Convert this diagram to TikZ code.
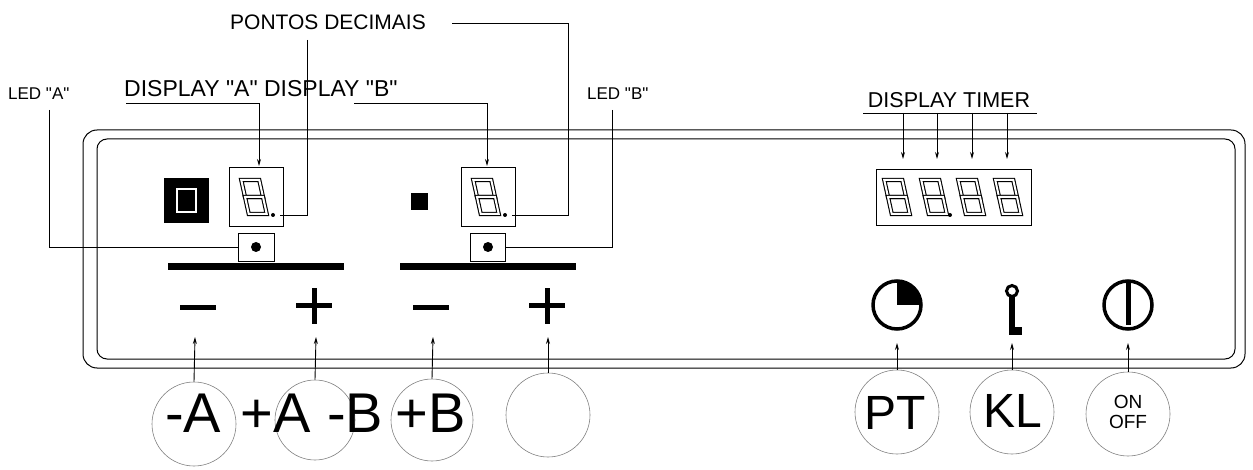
\documentclass[tikz,border=0pt]{standalone}
\usepackage{fontspec}
\setmainfont{Liberation Sans}[Ligatures=TeXOff]
\usetikzlibrary{arrows.meta,shapes.geometric}
\newcommand\qq{"}
\newcommand\mysegeight[2]{\begin{scope}[shift={(#1,#2)},xslant=-0.22]
  \draw[line width=1.1pt,double=white,double distance=2pt] (-9,-17) rectangle (9,0);
  \draw[line width=1.1pt,double=white,double distance=2pt] (-9,0) rectangle (9,17);
\end{scope}}
\begin{document}
\begin{tikzpicture}[x=1pt,y=-1pt,
  lead/.style={line width=0.9pt},
  arr/.style={line width=0.9pt,-{Stealth[length=7pt,width=4pt]}},
  btn/.style={draw=gray,line width=0.6pt,circle,minimum size=84pt,inner sep=0pt},
  lbl/.style={inner sep=0pt},
  big/.style={font=\fontsize{56}{56}\selectfont,inner sep=0pt},
  box/.style={draw,line width=0.9pt}]
\useasboundingbox (0,0) rectangle (1253,470);
% panel
\draw[line width=1pt,rounded corners=14pt] (83,130) rectangle (1245,368);
\draw[line width=1pt,rounded corners=10pt] (97,139) rectangle (1235,359);
% LED A symbol
\fill (164,178) rectangle (209,223);
\draw[white,line width=2.5pt] (177,189) rectangle (196,212);
\node[box,minimum width=54pt,minimum height=59pt] (dA) at (256,197) {};
\mysegeight{254}{197}
\fill (273,215) circle (2pt);
\coordinate (dpA) at (280,215);
\node[box,minimum width=36pt,minimum height=28pt] (lA) at (256,247) {};
\fill (256,247) circle (5pt);
\fill (168,263) rectangle (344,270);
% B
\fill (411,193) rectangle (428,210);
\node[box,minimum width=54pt,minimum height=59pt] (dB) at (488,197) {};
\mysegeight{486}{197}
\fill (505,215) circle (2pt);
\coordinate (dpB) at (512,215);
\node[box,minimum width=35pt,minimum height=28pt] (lB) at (488,247) {};
\fill (488,247) circle (5pt);
\fill (400,263) rectangle (576,270);
% minus / plus
\foreach \x in {198,431} \fill (\x-18,305) rectangle (\x+18,310);
\foreach \x in {314,547} {\fill (\x-18,303) rectangle (\x+18,308); \fill (\x-2.5,288) rectangle (\x+2.5,324);}
% labels top
\node[lbl,anchor=base west,font=\fontsize{17}{17}\selectfont] (tLA) at (8,100) {LED \qq A\qq};
\node[lbl,anchor=base west,font=\fontsize{23}{23}\selectfont] (tD) at (124,97) {DISPLAY \qq A\qq\ DISPLAY \qq B\qq};
\node[lbl,anchor=base,font=\fontsize{21}{21}\selectfont] (tP) at (328,30) {PONTOS DECIMAIS};
\node[lbl,anchor=base west,font=\fontsize{17}{17}\selectfont] (tLB) at (587,100) {LED \qq B\qq};
\node[lbl,anchor=base,font=\fontsize{21.5}{21.5}\selectfont] (tT) at (949,108) {DISPLAY TIMER};
% leaders
\draw[lead] (49,110) -- (49,247) -- (lA.west);
\draw[lead] (612,110) -- (612,247) -- (lB.east);
\draw[arr] (126,103) -- (259,103) -- (259,166);
\draw[arr] (354,103) -- (487,103) -- (487,166);
\draw[lead] (307,40) -- (307,215) -- (dpA);
\draw[lead] (452,23) -- (568,23) -- (568,215) -- (dpB);
% timer
\draw[lead] (863,113) -- (1037,113);
\node[box,minimum width=155pt,minimum height=56pt] (tm) at (954,197) {};
\foreach \x in {897,934,971,1008} {\mysegeight{\x}{197}}
\fill (950,215) circle (2pt);
\foreach \x in {903,937,972,1007} \draw[arr] (\x,113) -- (\x,159);
% icons
\draw[line width=3.5pt] (897,305) circle (24pt);
\fill (897,305) -- (897,281) arc (90:0:24pt) -- cycle;
\draw[line width=3pt] (1012,291) circle (5.5pt);
\fill (1009,297) rectangle (1015,335); \fill (1009,327) rectangle (1022,335);
\coordinate (ic2) at (1012,343);
\draw[line width=3.5pt] (1128,305) circle (24pt);
\fill (1125.5,283) rectangle (1130.5,325);
% buttons
\node[btn] (bA1) at (194,424) {};
\node[btn,minimum size=80pt] (bA2) at (315,420) {};
\node[btn,minimum size=82pt] (bB1) at (432,420) {};
\node[btn] (bB2) at (548,415) {};
\node[big] at (193,413) {-A};
\node[big] at (276,413) {+A};
\node[big] at (355,413) {-B};
\node[big] at (431,413) {+B};
\node[btn] (pt) at (897,412) {};
\node[btn] (kl) at (1012,412) {};
\node[btn] (on) at (1128,414) {};
\node[font=\fontsize{48}{48}\selectfont,inner sep=0pt] at (895,413) {PT};
\node[font=\fontsize{48}{48}\selectfont,inner sep=0pt] at (1013,411) {KL};
\node[font=\fontsize{19}{20}\selectfont,align=center,inner sep=0pt] at (1128,412) {ON\\OFF};
\foreach \n/\x in {bA1/195,bA2/316,bB1/433,bB2/548} \draw[arr] (\n.north) -- (\x,337);
\draw[arr] (pt.north) -- (897,343);
\draw[arr] (kl.north) -- (ic2);
\draw[arr] (on.north) -- (1128,343);
\end{tikzpicture}
\end{document}
